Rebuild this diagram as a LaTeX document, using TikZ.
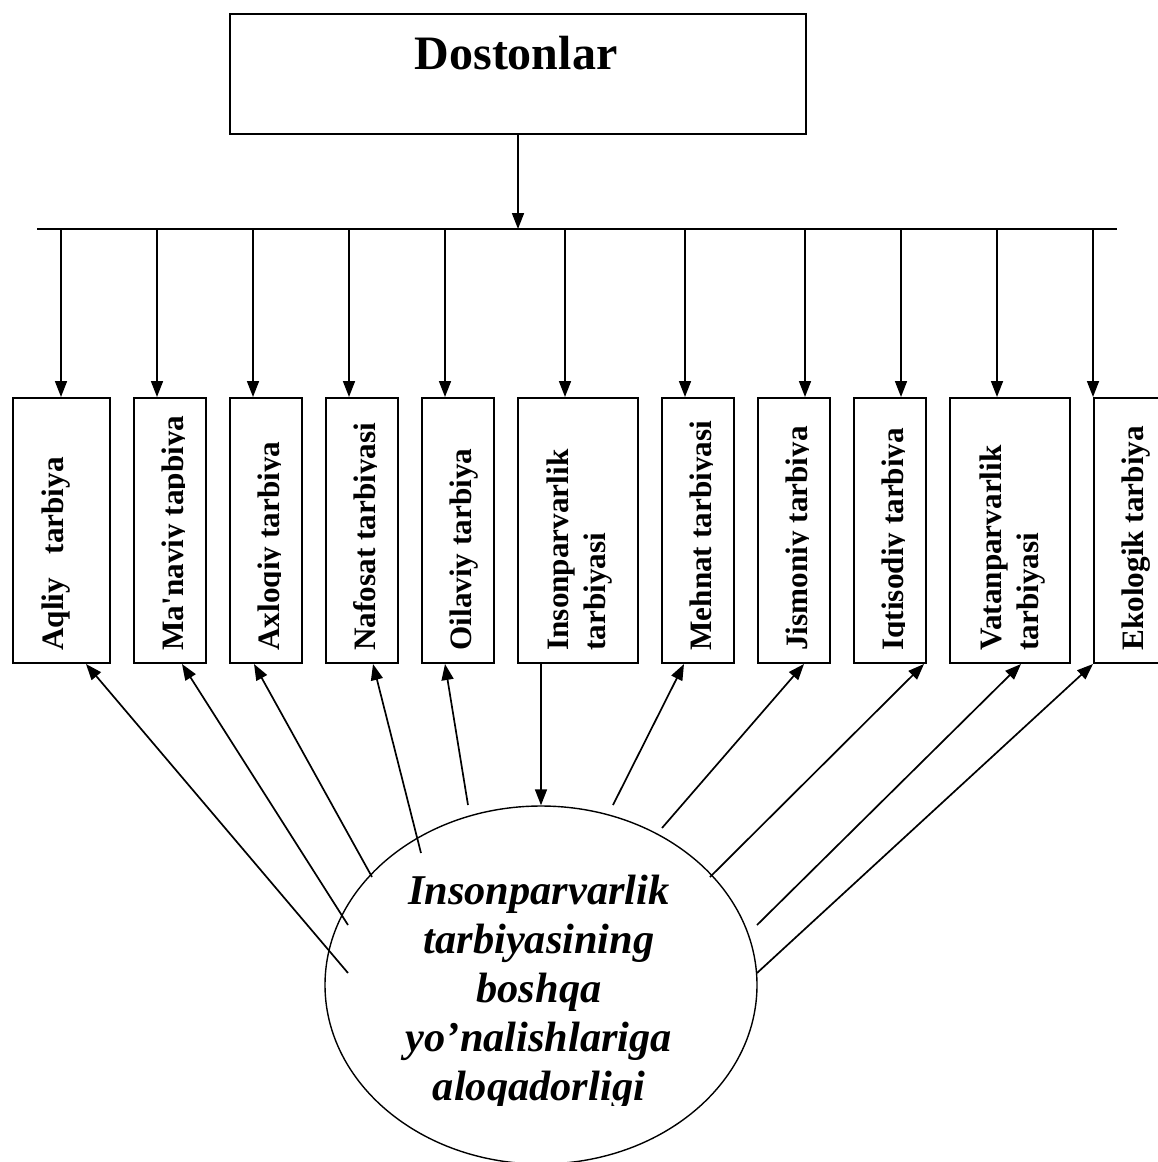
\documentclass[tikz,border=0pt]{standalone}
\usepackage{fontspec}
\setmainfont{Liberation Serif}
\usetikzlibrary{arrows.meta,calc,shapes.geometric}
\tikzset{
  box/.style={draw,line width=1pt,minimum height=132.5pt,inner sep=0pt,anchor=north west},
  lbl/.style={rotate=90,anchor=base west,align=left,inner sep=0pt,font=\bfseries\fontsize{15.6pt}{18.5pt}\selectfont},
  arr/.style={-{Triangle[length=8pt,width=6pt]},line width=0.85pt},
}
\begin{document}
\begin{tikzpicture}[x=0.5pt,y=-0.5pt]
\useasboundingbox (0,0) rectangle (1157,1162);
% top box
\node[draw,line width=1pt,minimum width=288pt,minimum height=60pt,inner sep=0pt,anchor=north west] (dost) at (229,13) {};
\node[font=\bfseries\fontsize{24pt}{28pt}\selectfont,anchor=base,inner sep=0pt] (dostlbl) at (516,69) {Dostonlar};
\coordinate (barL) at (37,229);
\coordinate (barR) at (1117,229);
\draw[line width=0.9pt] (barL) -- (barR);
\draw[arr] (dost.south) -- (dost.south |- barL);
% the eleven boxes: name/left/width/arrow x/clip width/baseline/text
\foreach \n/\x/\w/\a/\c/\b/\t in {
  aqliy/12/97/61/97/51/{Aqliy\ \ \ tarbiya},
  manaviy/133/72/157/51/50/{Ma\textquotesingle naviy tapbiya},
  axloqiy/229/72/253/51/50/{Axloqiy tarbiya},
  nafosat/325/72/349/51/50/{Nafosat tarbiyasi},
  oilaviy/421/72/445/72/50/{Oilaviy tarbiya},
  inson/517/120/565/120/88/{Insonparvarlik\\tarbiyasi},
  mehnat/661/72/685/51/50/{Mehnat tarbiyasi},
  jismoniy/757/72/805/51/50/{Jismoniy tarbiya},
  iqtisod/853/72/901/51/50/{Iqtisodiy tarbiya},
  vatan/949/120/997/120/89/{Vatanparvarlik\\tarbiyasi},
  ekolog/1093/72/1093/72/50/{Ekologik tarbiya}}
{
  \node[box,minimum width=\w*0.5pt] (\n) at (\x,397) {};
  \coordinate (up\n) at (\a,229);
  \draw[arr] (up\n) -- (up\n |- \n.north);
  \begin{scope}
    \clip (\x,397) rectangle ++(\c,265);
    \node[lbl] (t\n) at ($(\n.south west)+(\b,-13)$) {\t};
  \end{scope}
}
% ellipse
\node[ellipse,draw,line width=0.7pt,minimum width=216pt,minimum height=179pt,inner sep=0pt] (el) at (541,985) {};
\begin{scope}
  \clip (0,0) rectangle (1157,1105);
  \node[font=\bfseries\itshape\fontsize{21.2pt}{24.5pt}\selectfont,align=center,anchor=north,inner sep=0pt] (eltxt) at (539,875)
    {Insonparvarlik\\tarbiyasining\\boshqa\\yo’nalishlariga\\aloqadorligi};
\end{scope}
% arrows from the ellipse: name/start x/start y/tip offset
\foreach \n/\sx/\sy/\d in {
  aqliy/348/973/74, manaviy/348/925/49, axloqiy/372/877/25,
  nafosat/421/853/48, oilaviy/468/805/24, mehnat/613/805/23,
  jismoniy/662/828/47, iqtisod/710/877/71, vatan/757/925/72,
  ekolog/757/973/0}
{
  \coordinate (s\n) at (\sx,\sy);
  \draw[arr] (s\n) -- ($(\n.south west)+(\d,0)$);
}
\draw[arr] ($(inson.south west)+(24,0)$) -- (el.north);
\end{tikzpicture}
\end{document}
